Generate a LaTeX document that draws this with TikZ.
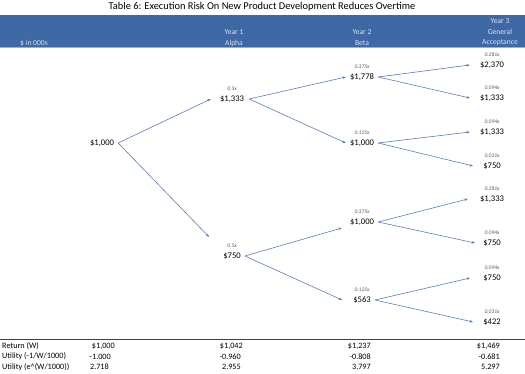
\documentclass[tikz,border=0pt]{standalone}
\usepackage{fontspec}
\setmainfont{Carlito}
\usetikzlibrary{arrows.meta,calc}
\definecolor{hdrblue}{HTML}{3F69A5}
\definecolor{hdrtext}{HTML}{D5E0F0}
\definecolor{arrblue}{HTML}{5B7DB3}
\definecolor{probgray}{HTML}{555555}
\tikzset{
  val/.style={inner sep=0pt, font=\fontsize{8.6}{9}\selectfont, text=black},
  prob/.style={inner sep=0pt, font=\fontsize{5.5}{6}\selectfont\itshape, text=probgray},
  hdr/.style={inner sep=0pt, font=\fontsize{7.6}{8}\selectfont, text=hdrtext},
  tbl/.style={inner sep=0pt, font=\fontsize{8.2}{9}\selectfont, text=black},
  arr/.style={draw=arrblue, line width=0.6pt, -{Stealth[length=3.5pt,width=2.6pt]}},
}
\begin{document}
\begin{tikzpicture}[x=1pt,y=-1pt]
\useasboundingbox (0,0) rectangle (525,374);
% title
\node[inner sep=0pt, font=\fontsize{10.4}{11}\selectfont] (title) at (262,7) {Table 6: Execution Risk On New Product Development Reduces Overtime};
% header bar
\fill[hdrblue] (0,15) rectangle (525,48);
\draw[hdrtext!60!hdrblue, line width=0.5pt] (0,47.5) -- (525,47.5);
\node[hdr, anchor=west] (h0) at (20,43) {\$ in 000s};
\node[hdr] (h1a) at (234,32) {Year 1};
\node[hdr] (h1b) at (234,43) {Alpha};
\node[hdr] (h2a) at (362,32) {Year 2};
\node[hdr] (h2b) at (362,43) {Beta};
\node[hdr] (h3a) at (500,21) {Year 3};
\node[hdr] (h3b) at (500,32) {General};
\node[hdr] (h3c) at (500,43) {Acceptance};
% tree nodes
\node[val] (r) at (102,143) {\$1,000};
\node[val] (a) at (232,99) {\$1,333};
\node[prob] (pa) at (232,89) {0.5x};
\node[val] (b) at (232,256) {\$750};
\node[prob] (pb) at (232,246) {0.5x};
\node[val] (aa) at (362,77) {\$1,778};
\node[prob] (paa) at (362,67) {0.375x};
\node[val] (ab) at (362,143) {\$1,000};
\node[prob] (pab) at (362,133) {0.125x};
\node[val] (ba) at (362,222) {\$1,000};
\node[prob] (pba) at (362,212) {0.375x};
\node[val] (bb) at (362,300) {\$563};
\node[prob] (pbb) at (362,290) {0.125x};
\node[val] (aaa) at (492,65) {\$2,370};
\node[prob] (paaa) at (492,55) {0.281x};
\node[val] (aab) at (492,98) {\$1,333};
\node[prob] (paab) at (492,88) {0.094x};
\node[val] (aba) at (492,132) {\$1,333};
\node[prob] (paba) at (492,122) {0.094x};
\node[val] (abb) at (492,166) {\$750};
\node[prob] (pabb) at (492,156) {0.031x};
\node[val] (baa) at (492,199) {\$1,333};
\node[prob] (pbaa) at (492,189) {0.281x};
\node[val] (bab) at (492,243) {\$750};
\node[prob] (pbab) at (492,233) {0.094x};
\node[val] (bba) at (492,278) {\$750};
\node[prob] (pbba) at (492,268) {0.094x};
\node[val] (bbb) at (492,322) {\$422};
\node[prob] (pbbb) at (492,312) {0.031x};
% arrows
\draw[arr] ([xshift=4pt]r.east) -- ([xshift=-9pt]a.west);
\draw[arr] ([xshift=4pt]r.east) -- ([xshift=-14pt,yshift=19pt]b.west);
\draw[arr] ([xshift=5pt]a.east) -- ([xshift=-4pt]aa.west);
\draw[arr] ([xshift=5pt]a.east) -- ([xshift=-4pt]ab.west);
\draw[arr] ([xshift=4pt]b.east) -- ([xshift=-8pt,yshift=-6pt]ba.west);
\draw[arr] ([xshift=4pt]b.east) -- ([xshift=-11pt]bb.west);
\draw[arr] ([xshift=4pt]aa.east) -- ([xshift=-10pt]aaa.west);
\draw[arr] ([xshift=4pt]aa.east) -- ([xshift=-10pt]aab.west);
\draw[arr] ([xshift=4pt]ab.east) -- ([xshift=-10pt]aba.west);
\draw[arr] ([xshift=4pt]ab.east) -- ([xshift=-10pt]abb.west);
\draw[arr] ([xshift=4pt]ba.east) -- ([xshift=-12pt]baa.west);
\draw[arr] ([xshift=4pt]ba.east) -- ([xshift=-8pt]bab.west);
\draw[arr] ([xshift=4pt]bb.east) -- ([xshift=-13pt]bba.west);
\draw[arr] ([xshift=4pt]bb.east) -- ([xshift=-10pt]bbb.west);
% bottom table
\draw[black!75, line width=1.3pt] (0,339.5) -- (525,339.5);
\node[tbl, anchor=west] (l1) at (2,346) {Return (W)};
\node[tbl, anchor=west] (l2) at (2,356.5) {Utility (-1/W/1000)};
\node[tbl, anchor=west] (l3) at (2,367) {Utility (e\^{}(W/1000))};
\node[tbl, anchor=east] (v11) at (115,346) {\$1,000};
\node[tbl, anchor=east] (v12) at (111,356.5) {-1.000};
\node[tbl, anchor=east] (v13) at (109,367) {2.718};
\node[tbl, anchor=east] (v21) at (243,346) {\$1,042};
\node[tbl, anchor=east] (v22) at (241,356.5) {-0.960};
\node[tbl, anchor=east] (v23) at (241,367) {2.955};
\node[tbl, anchor=east] (v31) at (371,346) {\$1,237};
\node[tbl, anchor=east] (v32) at (371,356.5) {-0.808};
\node[tbl, anchor=east] (v33) at (371,367) {3.797};
\node[tbl, anchor=east] (v41) at (500,346) {\$1,469};
\node[tbl, anchor=east] (v42) at (500,356.5) {-0.681};
\node[tbl, anchor=east] (v43) at (500,367) {5.297};
\end{tikzpicture}
\end{document}
